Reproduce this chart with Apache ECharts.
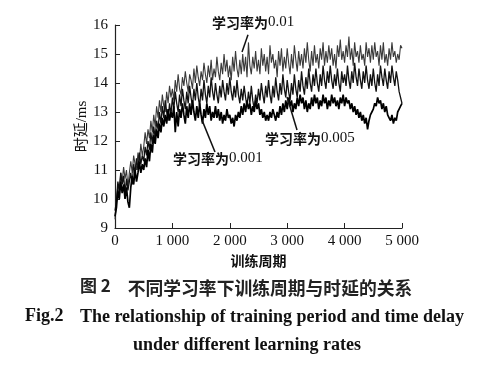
<!DOCTYPE html>
<html><head><meta charset="utf-8">
<script src="https://cdn.jsdelivr.net/npm/echarts@6/dist/echarts.min.js"></script>
<style>html,body{margin:0;padding:0;background:#fff}#c{width:484px;height:374px}</style>
</head><body><div id="c"></div>
<script>
var step = 25;
var rate001 = [
9.3,9.9,10.5,10.2,10.9,10.6,11.1,10.7,11.0,10.4,
10.9,11.3,10.9,11.5,11.2,11.0,11.6,11.3,11.9,11.5,
11.8,12.3,11.9,12.4,12.1,12.7,12.3,12.9,12.5,13.2,
12.8,13.4,13.0,13.6,13.2,13.0,13.7,13.3,13.9,13.5,
13.8,13.4,14.1,13.7,14.3,13.8,13.6,14.2,13.9,14.4,
14.0,13.7,14.3,14.1,13.8,14.5,14.0,14.6,14.2,13.9,
14.4,14.1,14.7,14.3,14.0,14.6,14.2,14.8,14.1,14.5,
14.2,14.9,14.4,14.1,14.7,14.3,15.0,14.4,14.8,14.2,
14.6,14.1,14.9,14.4,15.1,14.5,14.2,14.8,14.3,15.0,
14.4,14.9,14.2,15.4,14.6,14.3,14.9,14.5,15.1,14.4,
14.8,14.3,15.2,14.6,15.0,14.4,14.9,14.3,15.3,14.7,
15.0,14.5,14.8,14.2,15.1,14.6,15.2,14.4,14.9,14.5,
15.2,14.7,14.3,15.0,14.5,15.3,14.8,14.4,15.1,14.6,
15.0,14.5,15.2,14.7,15.4,14.8,14.4,15.1,14.6,15.3,
14.7,15.0,14.5,15.2,14.8,15.4,14.6,15.1,14.7,15.3,
14.8,15.2,14.6,15.0,14.5,15.3,14.9,15.5,14.8,15.1,
14.7,15.3,14.9,15.6,14.8,15.2,14.6,15.4,14.9,15.1,
14.7,15.3,14.8,15.0,14.6,15.4,14.9,15.2,14.7,15.3,
14.8,15.4,14.9,15.1,14.6,15.3,14.8,15.4,14.7,15.0,
14.6,15.2,14.8,15.4,14.9,15.1,14.7,15.0,14.8,15.3,15.2];
var rate0005 = [
9.6,9.9,10.6,10.3,10.9,10.5,10.8,10.2,10.7,10.3,
10.6,10.9,10.5,11.2,10.9,11.4,11.0,11.6,11.2,11.5,
11.3,11.8,11.5,12.0,11.7,12.3,11.9,12.5,12.1,12.7,
12.4,13.0,12.6,13.2,12.8,13.4,13.0,12.7,13.3,12.9,
13.5,13.1,13.7,13.3,13.0,13.6,13.2,13.8,13.4,13.1,
13.7,13.3,13.9,13.5,13.2,13.8,13.4,14.0,13.5,13.2,
13.8,13.4,14.1,13.6,13.3,13.9,13.5,14.2,13.7,13.4,
14.0,13.6,13.3,13.9,13.5,14.1,13.7,13.4,14.0,13.6,
14.2,13.7,13.4,13.9,13.5,14.1,13.6,13.3,13.8,13.4,
13.9,13.5,13.2,13.7,13.3,13.9,13.4,13.1,13.6,13.3,
13.8,13.4,14.0,13.6,13.3,13.9,13.5,14.1,13.6,13.3,
13.9,13.5,14.2,13.7,13.4,14.0,13.6,14.3,13.8,13.5,
14.1,13.7,13.4,14.0,13.6,14.3,13.8,13.5,14.1,13.7,
14.4,13.9,13.6,14.2,13.8,14.5,14.0,13.7,14.3,13.9,
14.5,14.0,13.7,14.3,13.9,14.6,14.1,13.8,14.4,14.0,
14.6,14.1,13.8,14.3,13.9,14.5,14.0,13.7,14.4,14.0,
14.3,13.9,14.6,14.1,13.8,14.4,14.0,14.7,14.2,13.9,
14.5,14.1,13.8,14.4,14.0,14.6,14.1,13.8,14.3,13.9,
14.5,14.0,13.7,14.3,13.9,14.6,14.2,13.9,14.5,14.1,
13.8,14.4,14.0,14.6,14.2,13.9,14.4,14.1,13.7,13.5,13.3];
var rate0001 = [
9.4,9.7,10.3,10.0,10.6,10.2,10.5,10.0,10.4,9.9,
9.7,10.4,10.8,10.5,11.0,10.6,10.9,11.3,10.9,11.2,
11.0,11.4,11.1,11.7,11.3,11.9,11.6,12.2,11.9,12.4,
12.1,12.6,12.3,12.8,12.5,12.9,12.6,13.1,12.7,13.0,
12.8,13.2,12.3,13.0,12.5,13.1,12.8,13.3,12.9,12.6,
13.2,12.8,13.3,12.9,13.4,13.0,12.7,13.2,12.8,13.3,
12.9,12.6,13.1,12.8,13.3,12.9,13.2,12.7,13.0,12.8,
13.2,12.8,13.1,12.7,13.0,12.6,12.9,12.7,13.1,12.8,
12.9,12.6,12.8,12.5,12.9,12.7,13.0,12.8,13.2,12.9,
13.3,13.0,13.4,13.1,13.3,12.9,13.2,13.0,13.4,13.1,
13.3,12.9,13.1,12.8,13.0,12.7,12.9,12.7,13.0,12.8,
13.1,12.9,12.7,13.0,12.8,13.2,12.9,13.3,13.0,13.4,
13.1,13.5,13.2,13.4,13.0,13.3,13.1,13.5,13.2,13.6,
13.3,13.5,13.1,13.4,13.0,13.3,13.1,13.5,13.2,13.6,
13.3,13.5,13.1,13.4,13.2,13.6,13.3,13.5,13.1,13.4,
13.2,13.6,13.3,13.5,13.2,13.4,13.1,13.5,13.3,13.6,
13.2,13.5,13.3,13.4,13.1,13.3,13.0,13.2,12.9,13.1,
12.8,13.0,12.7,12.9,12.6,12.8,12.4,12.7,12.9,13.0,
13.1,13.3,13.2,13.5,13.3,13.4,13.1,13.3,13.0,13.2,
12.9,12.8,12.7,12.9,12.6,12.8,12.7,13.0,13.1,13.2,13.3];
var xTicks = ['0','1 000','2 000','3 000','4 000','5 000'];
var rateLabels = ['0.01','0.005','0.001'];
var labelPrefix = '学习率为';

function pairs(arr){ return arr.map(function(v,i){ return [i*step, v]; }); }

var serif = '"Liberation Serif","Times New Roman","Noto Sans CJK SC",serif';
var chart = echarts.init(document.getElementById('c'), null, {renderer:'canvas'});
function seg(a,b){ return [{coord:a},{coord:b}]; }
function ann(i,l,t){
  return {type:'text',left:l,top:t,style:{
    text:'{c|'+labelPrefix+'}{n|'+rateLabels[i]+'}',
    rich:{c:{fontFamily:'"Noto Sans CJK SC"',fontWeight:'bold',fontSize:14,fill:'#111',color:'#111'},
          n:{fontFamily:'"Liberation Serif"',fontSize:15,fill:'#111',color:'#111'}}}};
}
var ml = {silent:true,symbol:'none',lineStyle:{color:'#111',width:1.5,type:'solid'},label:{show:false}};
chart.setOption({
  animation:false,
  grid:{left:115,right:82,top:25,bottom:146},
  xAxis:{type:'value',min:0,max:5000,interval:1000,
    axisLine:{lineStyle:{color:'#222',width:1.2}},
    axisTick:{inside:true,length:5,lineStyle:{color:'#222'}},
    splitLine:{show:false},
    axisLabel:{color:'#111',fontFamily:serif,fontSize:15,margin:6,
      formatter:function(v){ return xTicks[Math.round(v/1000)]; }},
    name:'训练周期',nameLocation:'middle',nameGap:24,
    nameTextStyle:{color:'#111',fontFamily:'"Noto Sans CJK SC"',fontWeight:'bold',fontSize:14}},
  yAxis:{type:'value',min:9,max:16,interval:1,
    axisLine:{show:true,lineStyle:{color:'#222',width:1.2}},
    axisTick:{show:true,inside:true,length:5,lineStyle:{color:'#222'}},
    splitLine:{show:false},
    axisLabel:{color:'#111',fontFamily:serif,fontSize:15,margin:7},
    name:'时延/ms',nameLocation:'middle',nameGap:25,nameRotate:90,nameMoveOverlap:false,
    nameTextStyle:{color:'#111',fontFamily:serif,fontSize:15}},
  series:[
    {name:rateLabels[0],type:'line',data:pairs(rate001),showSymbol:false,
      lineStyle:{color:'#3a3a3a',width:1.1},
      markLine:Object.assign({data:[seg([2317,15.66],[2213,15.07])]},ml)},
    {name:rateLabels[1],type:'line',data:pairs(rate0005),showSymbol:false,
      lineStyle:{color:'#111',width:1.3},
      markLine:Object.assign({data:[seg([3171,12.38],[2997,13.52])]},ml)},
    {name:rateLabels[2],type:'line',data:pairs(rate0001),showSymbol:false,
      lineStyle:{color:'#000',width:1.7},
      markLine:Object.assign({data:[seg([1742,11.62],[1516,12.72])]},ml)}
  ],
  graphic:[
    ann(0,212,15),ann(1,265,131),ann(2,173,151),
    {type:'text',left:80,top:277,style:{text:'图 2',font:'bold 17px "Noto Sans CJK SC"',fill:'#222'}},
    {type:'text',x:270,y:288,style:{text:'不同学习率下训练周期与时延的关系',font:'bold 17.8px "Noto Sans CJK SC"',fill:'#222',align:'center',verticalAlign:'middle'}},
    {type:'text',left:25,top:307,style:{text:'Fig.2',font:'bold 18px "Liberation Serif"',fill:'#111'}},
    {type:'text',x:272,y:317,style:{text:'The relationship of training period and time delay',font:'bold 18px "Liberation Serif"',fill:'#111',align:'center',verticalAlign:'middle'}},
    {type:'text',x:247,y:345,style:{text:'under different learning rates',font:'bold 18px "Liberation Serif"',fill:'#111',align:'center',verticalAlign:'middle'}}
  ]
});
</script></body></html>
